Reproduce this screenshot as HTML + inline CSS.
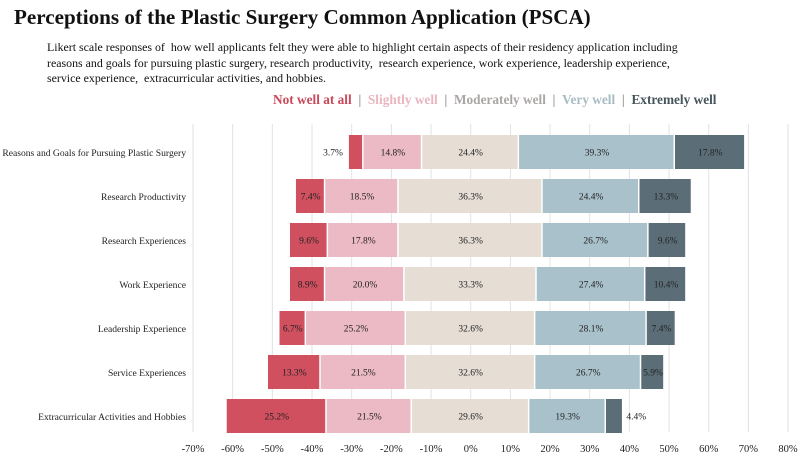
<!DOCTYPE html>
<html><head><meta charset="utf-8"><style>
body{margin:0;background:#fff;font-family:"Liberation Serif",serif;}
#wrap{position:relative;width:800px;height:458px;overflow:hidden;}
h1{position:absolute;left:14px;top:5px;margin:0;font-size:21.1px;font-weight:bold;color:#111;}
#sub{position:absolute;left:47px;top:40px;font-size:11.9px;line-height:15.5px;color:#111;width:650px;}
#legend{position:absolute;left:273px;top:92px;font-size:13.3px;font-weight:bold;color:#999;white-space:nowrap;}
</style></head><body>
<div id="wrap">
<h1>Perceptions of the Plastic Surgery Common Application (PSCA)</h1>
<div id="sub">Likert scale responses of &nbsp;how well applicants felt they were able to highlight certain aspects of their residency application including reasons and goals for pursuing plastic surgery, research productivity, &nbsp;research experience, work experience, leadership experience, service experience, &nbsp;extracurricular activities, and hobbies.</div>
<div id="legend"><span style="color:#c9485a">Not well at all</span> &nbsp;| &nbsp;<span style="color:#e8b5c0">Slightly well</span> &nbsp;| &nbsp;<span style="color:#a9a6a4">Moderately well</span> &nbsp;| &nbsp;<span style="color:#a8bcc4">Very well</span> &nbsp;| &nbsp;<span style="color:#46545c">Extremely well</span></div>
<svg id="svg" width="800" height="458" style="position:absolute;left:0;top:0"></svg>
</div>
<script>
const categories=["Reasons and Goals for Pursuing Plastic Surgery","Research Productivity","Research Experiences","Work Experience","Leadership Experience","Service Experiences","Extracurricular Activities and Hobbies"];
const notWell=[3.7,7.4,9.6,8.9,6.7,13.3,25.2];
const slightly=[14.8,18.5,17.8,20.0,25.2,21.5,21.5];
const moderately=[24.4,36.3,36.3,33.3,32.6,32.6,29.6];
const veryWell=[39.3,24.4,26.7,27.4,28.1,26.7,19.3];
const extremely=[17.8,13.3,9.6,10.4,7.4,5.9,4.4];
const ticks=[-70,-60,-50,-40,-30,-20,-10,0,10,20,30,40,50,60,70,80];
const colors=["#d0505f","#ebbac4","#e6ddd5","#a9c1cb","#5b6e78"];
const NS="http://www.w3.org/2000/svg";
const svg=document.getElementById('svg');
const x=v=>470.7+v*3.967;
const y=i=>152+i*44;
function mk(t,a){const e=document.createElementNS(NS,t);for(const k in a)e.setAttribute(k,a[k]);svg.appendChild(e);return e;}
ticks.forEach(t=>{
 const g=mk('line',{x1:x(t),x2:x(t),y1:124,y2:432,stroke:'#e2e2e2','stroke-width':1});
 
 
 const l=mk('text',{x:x(t),y:452,'text-anchor':'middle','font-size':10.5,fill:'#222','font-family':'Liberation Serif'});
 l.textContent=t+'%';
 
 
});
const series=[notWell,slightly,moderately,veryWell,extremely];
categories.forEach((c,i)=>{
 const cy=y(i);
 const lab=mk('text',{x:186,y:cy+4,'text-anchor':'end','font-size':9.6,fill:'#222','font-family':'Liberation Serif'});
 lab.textContent=c;
 
 
 let start=-(notWell[i]+slightly[i]+moderately[i]/2);
 series.forEach((s,k)=>{
  const v=s[i];const x0=x(start),x1=x(start+v);
  const r=mk('rect',{x:x0,y:cy-17,width:Math.max(0,x1-x0-1.5),height:34,fill:colors[k]});
  
  
  let tx=(x0+x1)/2,anchor='middle';
  if(v<5&&k==0){tx=x0-6;anchor='end';}
  if(v<5&&k==4){tx=x1+3;anchor='start';}
  const t=mk('text',{x:tx,y:cy+3.5,'text-anchor':anchor,'font-size':9.5,fill:'#222','font-family':'Liberation Serif'});
  t.textContent=v.toFixed(1)+'%';
  
  
  start+=v;
 });
});
</script>
</body></html>
